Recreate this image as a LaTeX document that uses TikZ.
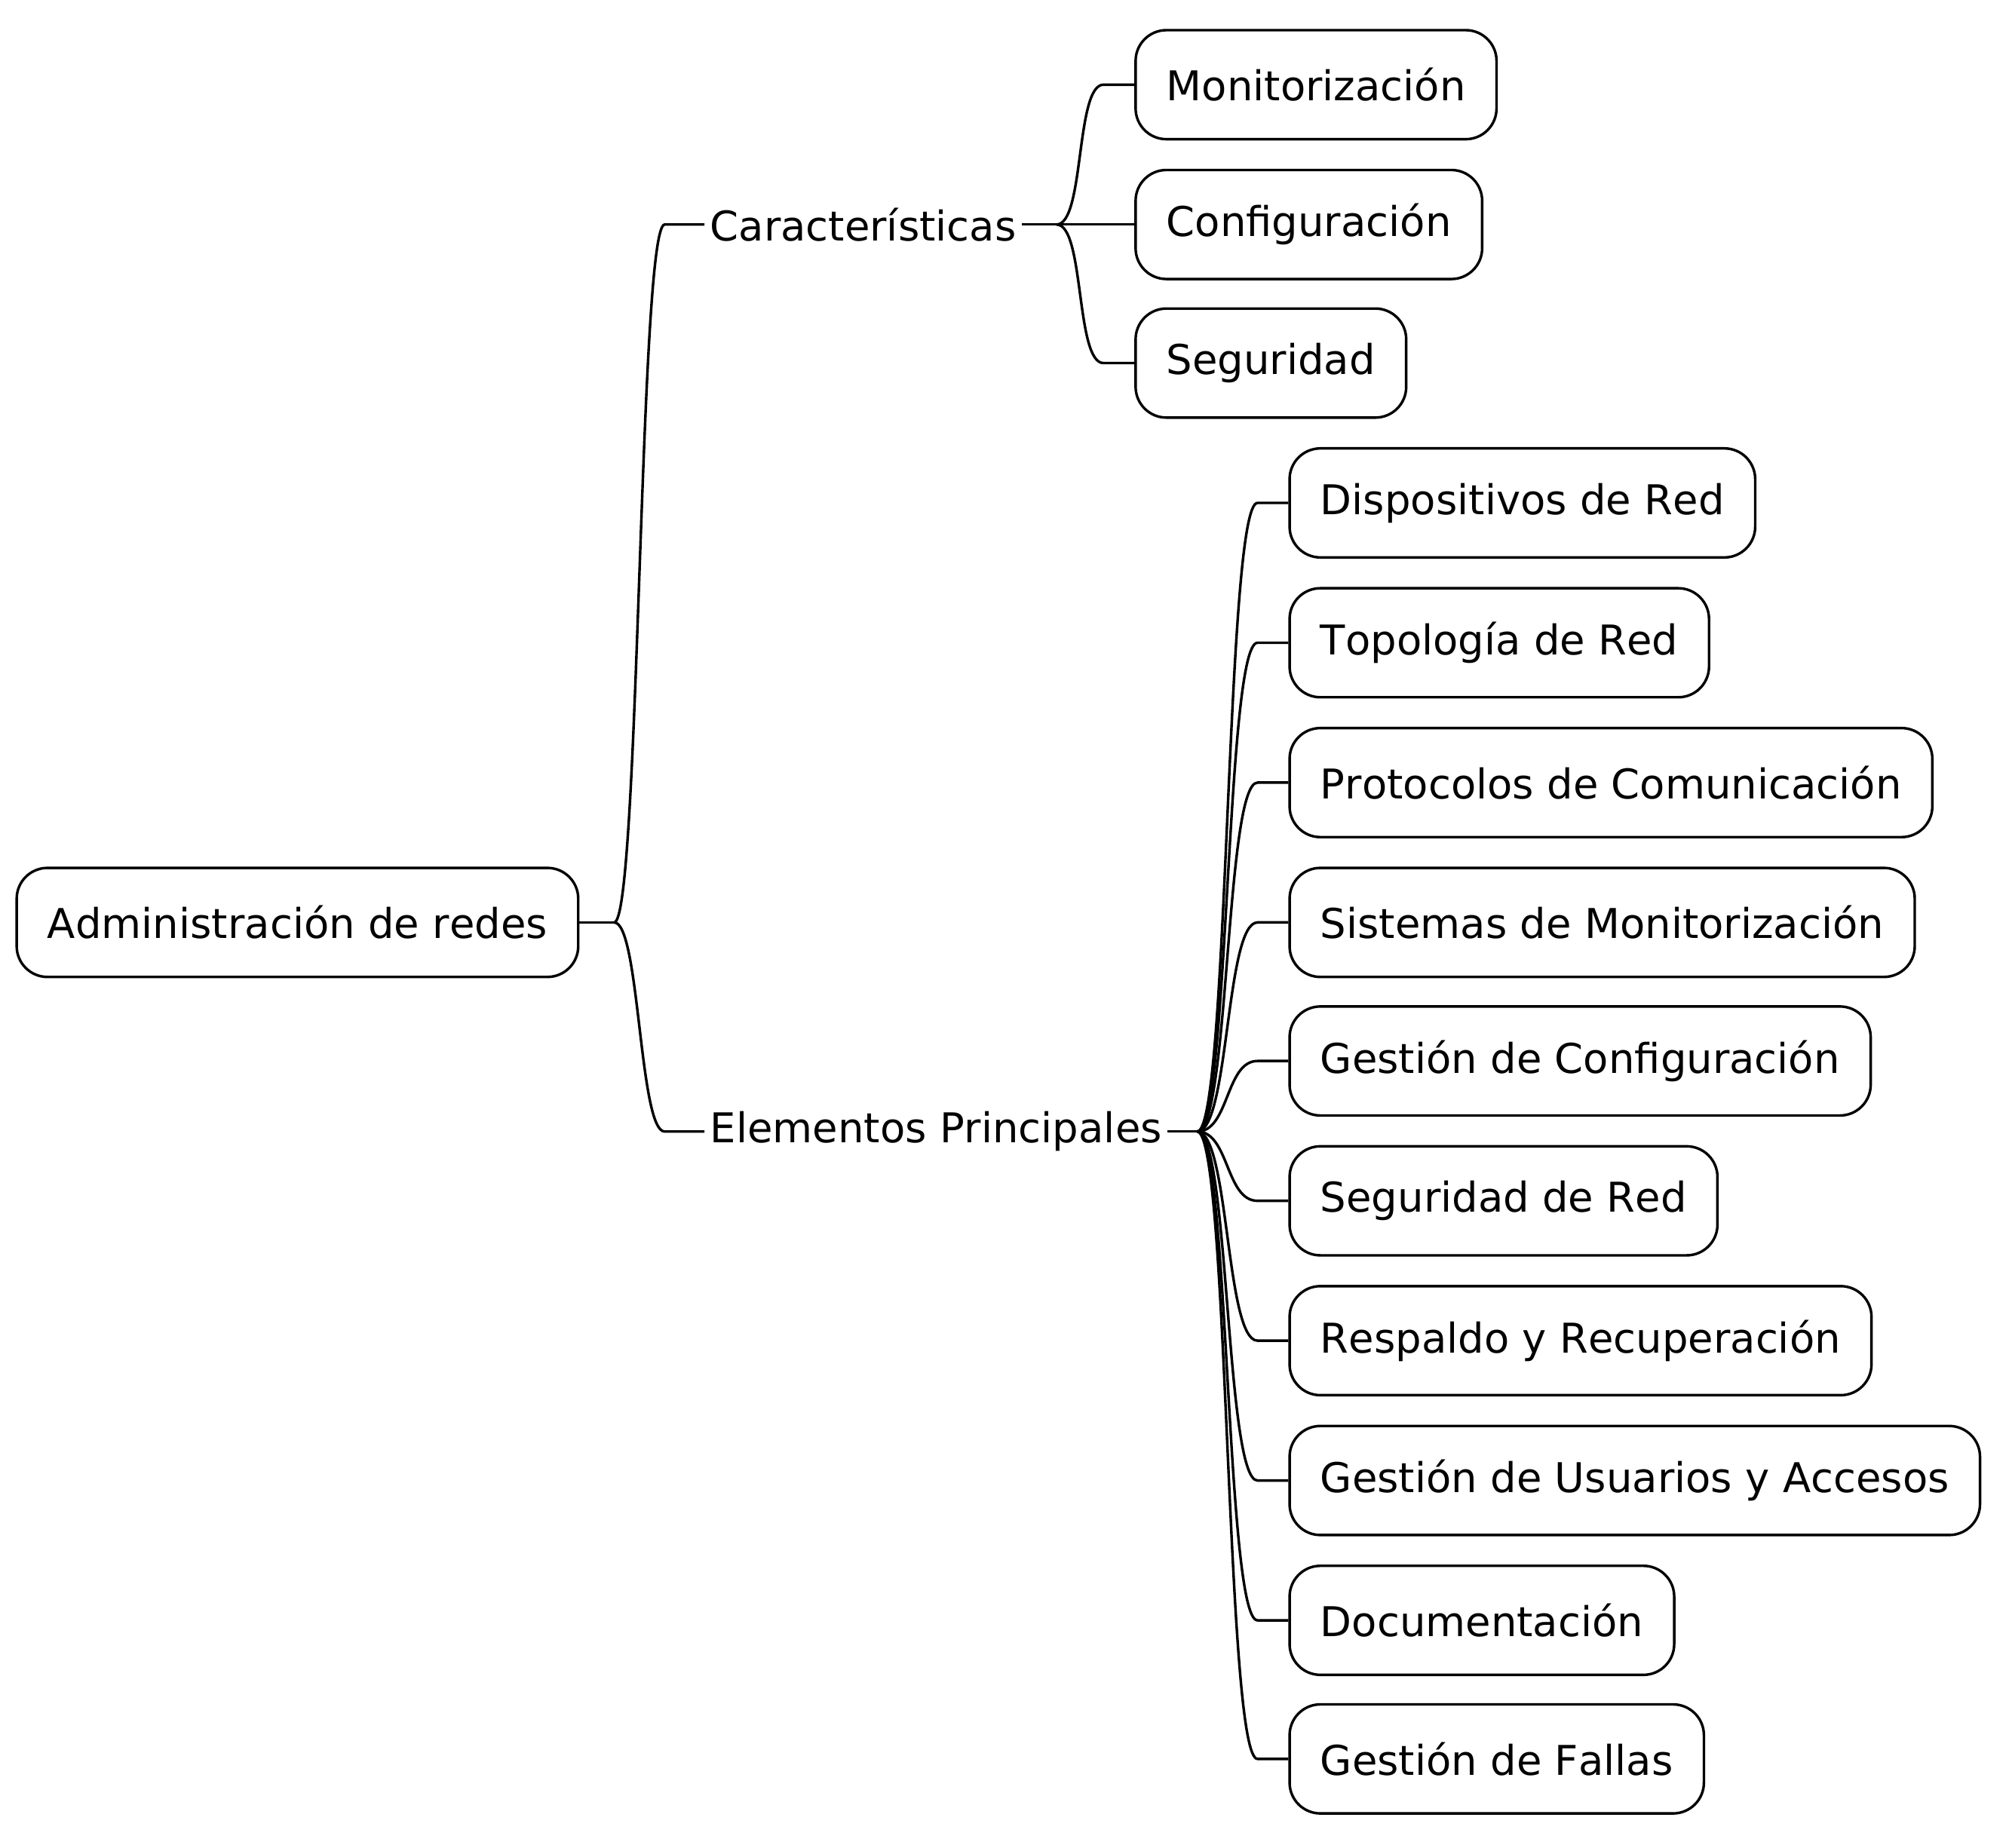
\documentclass[tikz,border=0pt]{standalone}
\usepackage{fontspec}
\setmainfont[Kerning=Off]{DejaVu Sans}
\usetikzlibrary{calc}
\tikzset{
  mmbox/.style={draw, line width=1pt, rounded corners=12pt, minimum height=42.5pt,
    inner xsep=12pt, inner ysep=0pt, anchor=west, font=\fontsize{16}{19}\selectfont},
  mmlabel/.style={inner xsep=2pt, inner ysep=0pt, anchor=west, font=\fontsize{16}{19}\selectfont},
  mmline/.style={line width=1pt}
}
\newcommand\mmlink[4]{\draw[mmline] (#1) .. controls +(#3,0) and +(-#3,0) .. ($(#2.west)+(-#4,0)$) -- (#2.west);}
\begin{document}
\begin{tikzpicture}[x=0.5pt,y=-0.5pt]
\useasboundingbox (0,0) rectangle (1568,1440);
% root
\node[mmbox] (root) at (12,719) {Administración de redes};
\node[mmlabel] (car) at (549,175) {Características};
\node[mmlabel] (ele) at (549,882) {Elementos Principales};
% characteristics children
\node[mmbox] (c1) at (884,66) {Monitorización};
\node[mmbox] (c2) at (884,175) {Configuración};
\node[mmbox] (c3) at (884,283) {Seguridad};
% elements children
\node[mmbox] (e1) at (1004,392) {Dispositivos de Red};
\node[mmbox] (e2) at (1004,501) {Topología de Red};
\node[mmbox] (e3) at (1004,610) {Protocolos de Comunicación};
\node[mmbox] (e4) at (1004,719) {Sistemas de Monitorización};
\node[mmbox] (e5) at (1004,827) {Gestión de Configuración};
\node[mmbox] (e6) at (1004,936) {Seguridad de Red};
\node[mmbox] (e7) at (1004,1045) {Respaldo y Recuperación};
\node[mmbox] (e8) at (1004,1154) {Gestión de Usuarios y Accesos};
\node[mmbox] (e9) at (1004,1263) {Documentación};
\node[mmbox] (e10) at (1004,1371) {Gestión de Fallas};
% hubs
\coordinate (h0) at ($(root.east)+(27,0)$);
\coordinate (hc) at ($(car.east)+(27,0)$);
\coordinate (he) at ($(ele.east)+(23,0)$);
\draw[mmline] (root.east) -- (h0);
\draw[mmline] (car.east) -- (hc);
\draw[mmline] (ele.east) -- (he);
\mmlink{h0}{car}{20}{31}
\mmlink{h0}{ele}{20}{31}
\mmlink{hc}{c1}{22}{24}
\mmlink{hc}{c2}{22}{24}
\mmlink{hc}{c3}{22}{24}
\foreach \n in {e1,e2,e3,e4,e5,e6,e7,e8,e9,e10}{\mmlink{he}{\n}{25}{24}}
\end{tikzpicture}
\end{document}
